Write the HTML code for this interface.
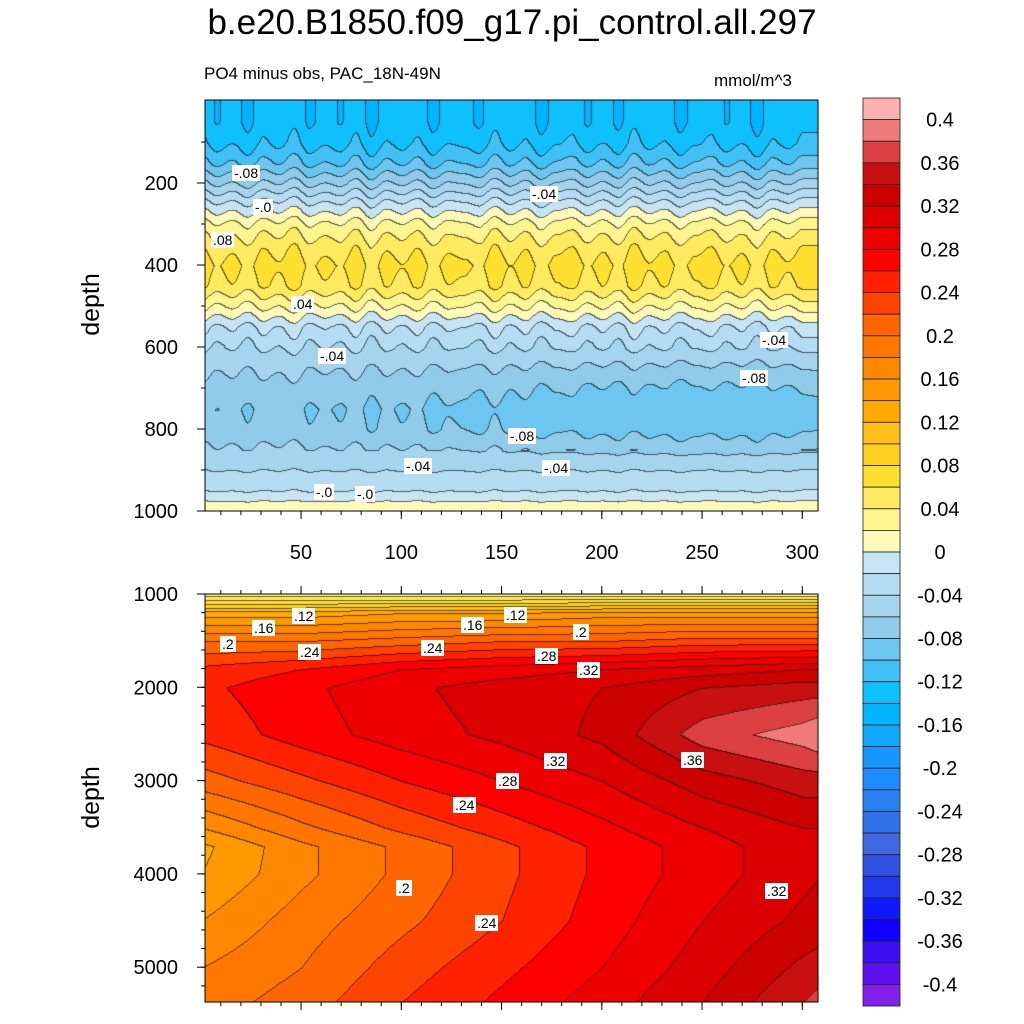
<!DOCTYPE html>
<html><head><meta charset="utf-8"><style>
body{margin:0;width:1024px;height:1024px;background:#fff;position:relative;overflow:hidden;font-family:"Liberation Sans",sans-serif;}
.t{position:absolute;white-space:nowrap;color:#000;}
canvas{position:absolute;}
.lbl{position:absolute;background:#fff;font-size:14px;padding:0 2px;line-height:16px;}
</style></head><body>
<div class="t" style="left:0;width:1024px;text-align:center;top:3px;font-size:35px;">b.e20.B1850.f09_g17.pi_control.all.297</div>
<div class="t" style="left:204px;top:64px;font-size:17px;">PO4 minus obs, PAC_18N-49N</div>
<div class="t" style="left:714px;top:71px;font-size:17px;">mmol/m^3</div>
<div class="t" style="left:60px;top:290px;font-size:25px;transform:rotate(-90deg);">depth</div>
<div class="t" style="left:60px;top:783px;font-size:25px;transform:rotate(-90deg);">depth</div>
<canvas id="c1" width="613" height="411" style="left:205px;top:100px"></canvas>
<canvas id="c2" width="613" height="408" style="left:205px;top:594px"></canvas>
<svg id="ax" width="1024" height="1024" style="position:absolute;left:0;top:0"></svg>
<script>
// ---- data ----
const topDepths=[0,50,100,150,200,250,300,350,400,450,500,550,600,650,700,750,800,850,900,950,980,1000];
const topValues=[-0.135,-0.135,-0.125,-0.10,-0.06,-0.015,0.025,0.05,0.065,0.055,0.02,-0.02,-0.04,-0.06,-0.075,-0.085,-0.08,-0.06,-0.04,-0.02,0.005,0.015];
const topXWiggle=[0.01,-0.006,0.004,-0.01,0.008,-0.002,0.012,-0.008,0.002,-0.006,0.01,-0.012,0.006,-0.004,0.008,-0.01,0.004,0.0,-0.008,0.011,-0.005,0.007,-0.011,0.003,0.009,-0.007,0.005,-0.009,0.012,-0.003,0.006,-0.01,0.002,0.009,-0.006,0.004,-0.012,0.007,-0.002,0.01];
const topDeepShift=[0.008,0.006,0.004,-0.002,-0.008,-0.01,-0.008,-0.006];
const botDepths=[1000,1200,1500,1800,2000,2500,3000,3500,3700,4000,4500,5000,5375];
const botX=[0,50,100,150,200,250,300,310];
const botValues=[
[0.03,0.03,0.03,0.03,0.03,0.03,0.03,0.03],
[0.13,0.13,0.14,0.14,0.15,0.15,0.15,0.15],
[0.20,0.20,0.21,0.22,0.22,0.23,0.23,0.23],
[0.245,0.26,0.28,0.29,0.30,0.31,0.32,0.32],
[0.255,0.275,0.295,0.31,0.32,0.34,0.35,0.35],
[0.245,0.27,0.29,0.305,0.325,0.37,0.39,0.40],
[0.21,0.235,0.26,0.28,0.30,0.33,0.35,0.35],
[0.16,0.195,0.225,0.25,0.275,0.30,0.32,0.32],
[0.135,0.175,0.205,0.235,0.265,0.29,0.315,0.315],
[0.14,0.175,0.205,0.235,0.265,0.29,0.315,0.32],
[0.16,0.19,0.215,0.24,0.27,0.30,0.325,0.33],
[0.18,0.20,0.23,0.255,0.28,0.31,0.345,0.35],
[0.19,0.21,0.24,0.265,0.29,0.32,0.36,0.37]];
const posColors=["#fffab8","#fff590","#ffea60","#ffe030","#ffd020","#ffbf1a","#ffaa00","#ff9900","#ff8800","#ff7700","#ff6600","#ff4400","#ff2200","#ff0000","#ee0000","#dd0000","#cc0000","#c81010","#dc4040","#f07a7a","#ffb0b0"];
const negColors=["#c6e4f4","#b4dcf2","#a4d4ee","#90cbea","#6cc6f0","#40c0f4","#10c0fc","#00b4ff","#10a8ff","#1898ff","#1e8cff","#2880f0","#3070e8","#4068e0","#3050e0","#2038ee","#1018ff","#1000ff","#3c10f0","#6010f0","#8020e8"];
const cbLabels=[0.4,0.36,0.32,0.28,0.24,0.2,0.16,0.12,0.08,0.04,0,-0.04,-0.08,-0.12,-0.16,-0.2,-0.24,-0.28,-0.32,-0.36,-0.4];
const topYTicks=[200,400,600,800,1000];
const botYTicks=[1000,2000,3000,4000,5000];
const xTicks=[50,100,150,200,250,300];
// ---- scales ----
const xS=v=>200.8+v*2.005;
const topY=d=>101+d*0.41;
const botY=d=>594+(d-1000)*0.0933;
function interp1(arr,vals,v){if(v<=arr[0])return vals[0];for(let i=1;i<arr.length;i++){if(v<=arr[i]){const t=(v-arr[i-1])/(arr[i]-arr[i-1]);return vals[i-1]+(vals[i]-vals[i-1])*t;}}return vals[vals.length-1];}
function colorOf(v){const k=Math.floor(v/0.02);if(v>=0)return posColors[Math.min(20,k)];return negColors[Math.min(20,-k-1)];}
function wig(x){const n=topXWiggle.length;const p=x/7.7;const i=Math.floor(p),t=p-i;const a=topXWiggle[((i%n)+n)%n],b=topXWiggle[(((i+1)%n)+n)%n];const s=(1-Math.cos(t*Math.PI))/2;return a+(b-a)*s;}
function topField(x,d){let v=interp1(topDepths,topValues,d);const amp=d<600?1:(d<850?0.5:0.15);v+=wig(x)*amp;if(d>600&&d<900){v+=interp1([0,50,100,150,200,250,300,310],topDeepShift,x)*Math.sin((d-600)/300*Math.PI);}return v;}
function botField(x,d){const col=botX.map((_,j)=>interp1(botDepths,botValues.map(r=>r[j]),d));return interp1(botX,col,x);}
function draw(id,w,h,fx,fy,field){const c=document.getElementById(id),ctx=c.getContext('2d');const L=[];
for(let py=0;py<h;py++){const row=[];for(let px=0;px<w;px++){row.push(field(fx(px),fy(py)));}L.push(row);}
const img=ctx.createImageData(w,h);
for(let py=0;py<h;py++)for(let px=0;px<w;px++){const v=L[py][px];const k=Math.floor(v/0.02);let edge=false;
if(px>0&&Math.floor(L[py][px-1]/0.02)!==k)edge=true;if(py>0&&Math.floor(L[py-1][px]/0.02)!==k)edge=true;
const col=colorOf(v);let r=parseInt(col.substr(1,2),16),g=parseInt(col.substr(3,2),16),b=parseInt(col.substr(5,2),16);
if(edge){r*=0.4;g*=0.4;b*=0.4;}const i=(py*w+px)*4;img.data[i]=r;img.data[i+1]=g;img.data[i+2]=b;img.data[i+3]=255;}
ctx.putImageData(img,0,0);}
draw('c1',613,411,px=>(px+205-200.8)/2.005,py=>(py+100-101)/0.41,topField);
draw('c2',613,408,px=>(px+205-200.8)/2.005,py=>1000+(py)/0.0933,botField);
// ---- axes ----
const svg=document.getElementById('ax');const NS='http://www.w3.org/2000/svg';
function el(tag,attrs){const e=document.createElementNS(NS,tag);for(const k in attrs)e.setAttribute(k,attrs[k]);svg.appendChild(e);return e;}
function line(x1,y1,x2,y2,name){const e=el('line',{x1,y1,x2,y2,stroke:'#000','stroke-width':1});}
function text(x,y,s,anchor,name,size){const e=el('text',{x,y,'text-anchor':anchor,'font-size':size||20,'font-family':'Liberation Sans, sans-serif'});e.textContent=s;}
[[100,511],[594,1002]].forEach(([t,b])=>{const f=el('rect',{x:205,y:t,width:613,height:b-t,fill:'none',stroke:'#000','stroke-width':1});});
topYTicks.forEach(d=>{const y=topY(d);line(197,y,205,y,'y-tick');text(178,y+7,String(d),'end','y-tick-label');});
for(let d=100;d<=1000;d+=100){const y=topY(d);line(201,y,205,y,'y-minor-tick');}
botYTicks.forEach(d=>{const y=botY(d);line(197,y,205,y,'y-tick');text(178,y+7,String(d),'end','y-tick-label');});
for(let d=1200;d<=5300;d+=200){const y=botY(d);line(201,y,205,y,'y-minor-tick');}
xTicks.forEach(v=>{const x=xS(v);line(x,511,x,519,'x-tick');text(x,559,String(v),'middle','x-tick-label');line(x,1002,x,1010,'x-tick');line(x,594,x,586,'x-tick');});
for(let v=10;v<=300;v+=10){const x=xS(v);line(x,511,x,515,'x-minor-tick');line(x,1002,x,1006,'x-minor-tick');line(x,594,x,590,'x-minor-tick');}
// colorbar
const cbTop=98,bh=21.62;
for(let i=0;i<42;i++){const v=0.41-i*0.02;const r=el('rect',{x:863,y:cbTop+i*bh,width:37,height:bh,fill:colorOf(v),stroke:'#222','stroke-width':0.8});}
cbLabels.forEach(v=>{const y=cbTop+(0.42-v)/0.02*bh;let s=v===0?'0':String(v);text(940,y+7,s,'middle','colorbar-label',20);});
</script>
<div class="lbl" style="left:232px;top:165px">-.08</div>
<div class="lbl" style="left:211px;top:232px">.08</div>
<div class="lbl" style="left:253px;top:199px">-.0</div>
<div class="lbl" style="left:291px;top:296px">.04</div>
<div class="lbl" style="left:318px;top:348px">-.04</div>
<div class="lbl" style="left:530px;top:186px">-.04</div>
<div class="lbl" style="left:760px;top:332px">-.04</div>
<div class="lbl" style="left:740px;top:370px">-.08</div>
<div class="lbl" style="left:508px;top:428px">-.08</div>
<div class="lbl" style="left:542px;top:460px">-.04</div>
<div class="lbl" style="left:404px;top:458px">-.04</div>
<div class="lbl" style="left:314px;top:484px">-.0</div>
<div class="lbl" style="left:355px;top:486px">-.0</div>
<div class="lbl" style="left:220px;top:636px">.2</div>
<div class="lbl" style="left:252px;top:620px">.16</div>
<div class="lbl" style="left:292px;top:608px">.12</div>
<div class="lbl" style="left:298px;top:644px">.24</div>
<div class="lbl" style="left:421px;top:640px">.24</div>
<div class="lbl" style="left:461px;top:617px">.16</div>
<div class="lbl" style="left:504px;top:607px">.12</div>
<div class="lbl" style="left:573px;top:624px">.2</div>
<div class="lbl" style="left:535px;top:648px">.28</div>
<div class="lbl" style="left:577px;top:662px">.32</div>
<div class="lbl" style="left:544px;top:753px">.32</div>
<div class="lbl" style="left:681px;top:752px">.36</div>
<div class="lbl" style="left:496px;top:773px">.28</div>
<div class="lbl" style="left:453px;top:797px">.24</div>
<div class="lbl" style="left:396px;top:880px">.2</div>
<div class="lbl" style="left:475px;top:915px">.24</div>
<div class="lbl" style="left:765px;top:883px">.32</div>
</body></html>
